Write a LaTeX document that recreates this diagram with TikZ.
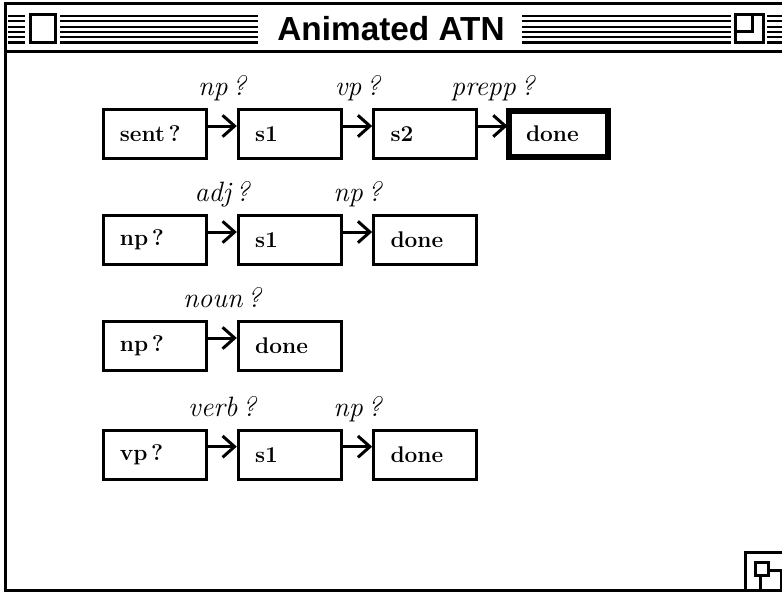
\documentclass[tikz,border=0pt]{standalone}
\usepackage{fontspec}
\usetikzlibrary{arrows.meta, positioning}
\newfontfamily\titlefont{Liberation Sans}

\begin{document}
\begin{tikzpicture}[x=0.75pt, y=-0.75pt, node distance=40.5pt and 22pt]
	\tikzstyle{state} = [draw, line width=2.25pt, minimum width=77.25pt, minimum height=36.75pt, text width=52pt, inner xsep=12pt, align=left, font=\fontsize{17}{19}\selectfont\bfseries]
	\tikzstyle{final} = [state, line width=4.5pt, outer sep=1.125pt, minimum width=74.5pt, minimum height=34.5pt, text width=49pt]
	\tikzstyle{trans} = [line width=2.25pt, -{Straight Barb[length=9pt, width=16pt]}]
	\tikzstyle{cond} = [midway, anchor=base, yshift=23pt, font=\fontsize{21}{23}\selectfont\itshape]
	\tikzstyle{frame} = [line width=2.25pt]

	\useasboundingbox (0,0) rectangle (782,592);

	% window
	\draw[frame] (5,4) rectangle (784,590);
	\draw[frame] (5,52) -- (782,52);
	\foreach \y in {16,21.3,26.6,31.9,37.2,42.5}
		\draw[line width=1.6pt] (8,\y) -- (25,\y) (60,\y) -- (258,\y) (522,\y) -- (731,\y) (767,\y) -- (782,\y);
	\draw[frame] (30,15) rectangle (55,43);
	\draw[frame] (735,15) rectangle (763,43);
	\draw[frame] (752,15) -- (752,32) -- (735,32);
	\node[font=\titlefont\fontsize{25}{27}\selectfont\bfseries] (title) at (391,29) {Animated ATN};

	% grow box
	\draw[frame] (745,592) -- (745,552) -- (782,552);
	\draw[frame] (760,570) rectangle (781,591);
	\draw[frame, fill=white] (755,562) rectangle (768,575);

	% sent network
	\path[trans]
		node[state] (a1) at (154.5,134) {sent\,?}
		node[state, right=of a1] (a2) {s1}
		node[state, right=of a2] (a3) {s2}
		node[final, right=of a3] (a4) {done}

		([yshift=6pt]a1.east) edge node[cond] {np\,?} ([yshift=6pt]a2.west)
		([yshift=6pt]a2.east) edge node[cond] {vp\,?} ([yshift=6pt]a3.west)
		([yshift=6pt]a3.east) edge node[cond] {prepp\,?} ([yshift=6pt]a4.west)
	;

	% np network
	\path[trans]
		node[state, below=of a1] (b1) {np\,?}
		node[state, right=of b1] (b2) {s1}
		node[state, right=of b2] (b3) {done}

		([yshift=6pt]b1.east) edge node[cond] {adj\,?} ([yshift=6pt]b2.west)
		([yshift=6pt]b2.east) edge node[cond] {np\,?} ([yshift=6pt]b3.west)
	;

	\path[trans]
		node[state, below=of b1] (c1) {np\,?}
		node[state, right=of c1] (c2) {done}

		([yshift=6pt]c1.east) edge node[cond] {noun\,?} ([yshift=6pt]c2.west)
	;

	% vp network
	\path[trans]
		node[state, below=42.5pt of c1] (d1) {vp\,?}
		node[state, right=of d1] (d2) {s1}
		node[state, right=of d2] (d3) {done}

		([yshift=6pt]d1.east) edge node[cond] {verb\,?} ([yshift=6pt]d2.west)
		([yshift=6pt]d2.east) edge node[cond] {np\,?} ([yshift=6pt]d3.west)
	;
\end{tikzpicture}
\end{document}
